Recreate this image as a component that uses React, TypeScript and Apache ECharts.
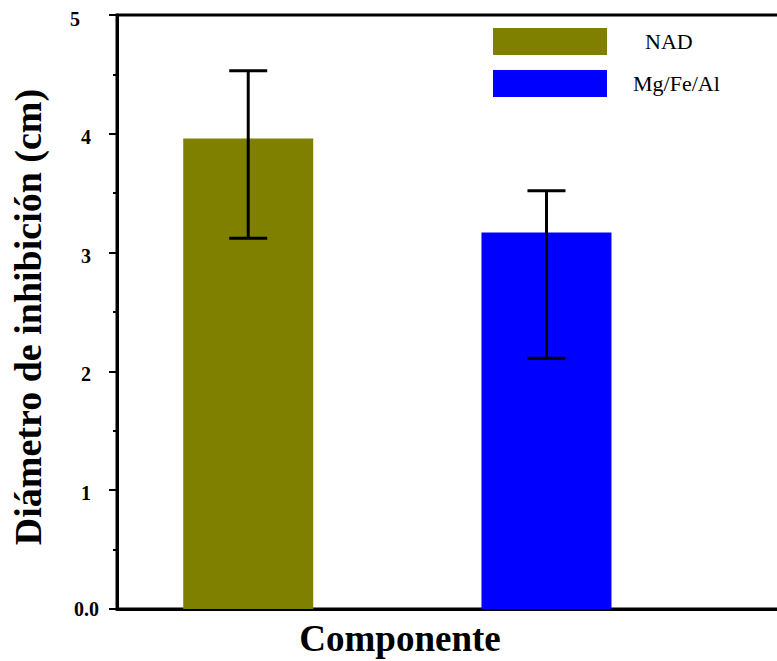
import React, { useEffect, useRef } from "react";
import * as echarts from "echarts";

// Mean inhibition diameters (cm) and their error-bar limits
const groups = ["NAD", "Mg/Fe/Al"];
const positions = [1, 2];
const means = [3.96, 3.17];
const errLow = [3.12, 2.11];
const errHigh = [4.53, 3.52];
const colors = ["#808000", "#0000ff"];
const yTicks = [0, 1, 2, 3, 4, 5];

const FONT = '"Times New Roman", "Liberation Serif", serif';

export default function App() {
  const ref = useRef<HTMLDivElement>(null);

  useEffect(() => {
    if (!ref.current) return;
    const chart = echarts.init(ref.current, undefined, { renderer: "svg" });

    const barSeries = groups.map((g, i) => ({
      name: g,
      type: "bar",
      data: [[positions[i], means[i]]],
      barWidth: 130,
      barGap: "-100%",
      itemStyle: { color: colors[i] },
      z: 2,
    }));

    const errData = groups.map((_, i) => [positions[i], errLow[i], errHigh[i]]);

    const labelStyle = { fontFamily: FONT, fontSize: 20, fontWeight: "bold", color: "#000" };

    chart.setOption({
      animation: false,
      backgroundColor: "#ffffff",
      grid: {
        left: 117,
        width: 680,
        top: 15,
        bottom: 52,
        outerBoundsMode: "none",
        containLabel: false,
        show: true,
        borderColor: "#000",
        borderWidth: 3,
        backgroundColor: "transparent",
      },
      legend: {
        data: groups,
        orient: "vertical",
        left: 493,
        top: 28,
        padding: 0,
        itemWidth: 114,
        itemHeight: 27,
        itemGap: 15,
        icon: "rect",
        formatter: (name: string) => (name === "NAD" ? `{n|${name}}` : `{m|${name}}`),
        textStyle: {
          fontFamily: FONT,
          fontSize: 22,
          color: "#000",
          rich: {
            n: { fontFamily: FONT, fontSize: 22, color: "#000", padding: [0, 0, 0, 33] },
            m: { fontFamily: FONT, fontSize: 22, color: "#000", padding: [0, 0, 0, 21] },
          },
        },
      },
      xAxis: {
        type: "value",
        min: 0.56,
        max: 2.84,
        axisLine: { show: true, onZero: false, lineStyle: { color: "#000", width: 3 } },
        axisTick: { show: false },
        axisLabel: { show: false },
        splitLine: { show: false },
      },
      yAxis: {
        type: "value",
        min: yTicks[0],
        max: yTicks[yTicks.length - 1],
        interval: 1,
        name: "Diámetro de inhibición (cm)",
        nameLocation: "middle",
        nameGap: 70,
        nameTextStyle: {
          fontFamily: FONT,
          fontSize: 38,
          fontWeight: "bold",
          color: "#000",
          padding: [0, 10, 0, 0],
        },
        axisLine: { show: true, lineStyle: { color: "#000", width: 3 } },
        axisTick: { show: true, inside: false, length: 8, lineStyle: { color: "#000", width: 2 } },
        minorTick: { show: true, splitNumber: 2, length: 4, lineStyle: { color: "#000", width: 2 } },
        splitLine: { show: false },
        axisLabel: {
          margin: 18,
          ...labelStyle,
          formatter: (v: number) =>
            v === 0 ? "{a|0.0}" : v === 5 ? `{c|${v}}` : `{b|${v}}`,
          rich: {
            a: { ...labelStyle },
            b: { ...labelStyle, padding: [6, 8, 0, 0] },
            c: { ...labelStyle, padding: [8, 19, 0, 0] },
          },
        },
      },
      graphic: [
        {
          type: "text",
          x: 400,
          y: 638,
          style: {
            text: "Componente",
            fontFamily: FONT,
            fontSize: 37,
            fontWeight: "bold",
            fill: "#000",
            textAlign: "center",
            textVerticalAlign: "middle",
          },
        },
      ],
      series: [
        ...barSeries,
        {
          name: "error",
          type: "custom",
          data: errData,
          encode: { x: 0, y: [1, 2] },
          z: 5,
          renderItem: (_params: any, api: any) => {
            const x = api.value(0);
            const top = api.coord([x, api.value(2)]);
            const bot = api.coord([x, api.value(1)]);
            const half = 19;
            const style = { stroke: "#000", lineWidth: 3 };
            return {
              type: "group",
              children: [
                { type: "line", shape: { x1: top[0], y1: top[1], x2: bot[0], y2: bot[1] }, style },
                { type: "line", shape: { x1: top[0] - half, y1: top[1], x2: top[0] + half, y2: top[1] }, style },
                { type: "line", shape: { x1: bot[0] - half, y1: bot[1], x2: bot[0] + half, y2: bot[1] }, style },
              ],
            };
          },
        },
      ],
    });

    return () => chart.dispose();
  }, []);

  return (
    <div
      ref={ref}
      style={{ position: "fixed", left: 0, top: 0, width: 777, height: 661 }}
    />
  );
}
